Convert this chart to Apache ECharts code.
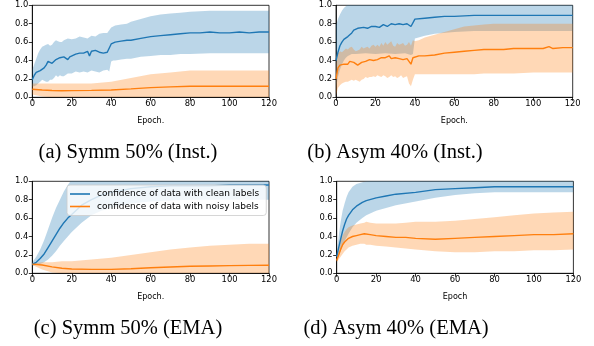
<!DOCTYPE html>
<html><head><meta charset="utf-8">
<script src="https://cdn.jsdelivr.net/npm/echarts@6/dist/echarts.min.js"></script>
<style>html,body{margin:0;padding:0;background:#fff}#c{width:594px;height:346px}</style>
</head><body><div id="c"></div>
<script>
// ---------- (a) Symm 50% (Inst.) ----------
const aCleanX = [0,1,2,3,4,5,6,7,8,9,10,11,12,13,14,15,16,17,18,19,20,22,24,25,26,27,28,29,30,31,32,33,34,35,36,37,38,39,40,41,42,45,48,50,55,60,65,70,75,80,85,90,95,100,105,110,115,120];
const aCleanY = [0.19,0.24,0.27,0.28,0.29,0.30,0.32,0.35,0.39,0.37,0.37,0.39,0.41,0.42,0.43,0.41,0.44,0.42,0.41,0.44,0.46,0.47,0.48,0.49,0.48,0.47,0.50,0.45,0.50,0.49,0.51,0.49,0.49,0.50,0.48,0.49,0.49,0.51,0.58,0.59,0.60,0.61,0.62,0.62,0.64,0.66,0.67,0.68,0.69,0.70,0.70,0.71,0.70,0.70,0.71,0.70,0.71,0.71];
const aCleanBX = [0,1,2,3,4,5,6,7,8,9,10,11,12,13,14,15,16,18,20,22,24,26,28,30,32,34,36,38,39,40,41,42,45,48,50,55,60,65,70,75,80,90,100,110,120];
const aCleanLo = [0.12,0.12,0.13,0.15,0.17,0.19,0.18,0.17,0.17,0.19,0.19,0.21,0.24,0.22,0.24,0.23,0.23,0.26,0.26,0.28,0.27,0.28,0.27,0.29,0.28,0.27,0.29,0.30,0.28,0.39,0.40,0.40,0.41,0.42,0.42,0.44,0.45,0.46,0.46,0.47,0.47,0.48,0.48,0.48,0.48];
const aCleanHi = [0.30,0.36,0.42,0.48,0.52,0.55,0.56,0.57,0.58,0.56,0.57,0.60,0.62,0.61,0.60,0.60,0.62,0.64,0.63,0.64,0.66,0.65,0.64,0.67,0.66,0.69,0.70,0.70,0.73,0.76,0.77,0.78,0.79,0.80,0.82,0.85,0.88,0.90,0.91,0.92,0.93,0.94,0.94,0.94,0.94];
const aNoisyX = [0,5,10,15,20,30,40,50,60,70,80,90,100,110,120];
const aNoisyY = [0.087,0.08,0.074,0.072,0.073,0.075,0.08,0.092,0.105,0.113,0.12,0.12,0.12,0.12,0.12];
const aNoisyLo = [0.03,0.01,0.0,0.0,0.0,0.0,0.0,0.0,0.0,0.0,0.0,0.0,0.0,0.0,0.0];
const aNoisyHi = [0.15,0.15,0.15,0.15,0.15,0.15,0.17,0.21,0.25,0.27,0.29,0.29,0.29,0.29,0.29];

// ---------- (b) Asym 40% (Inst.) ----------
const bCleanX = [0,1,2,3,4,5,6,7,8,9,10,11,12,14,16,18,20,22,24,25,26,28,30,32,34,36,37,38,39,40,41,45,50,55,60,70,80,90,100,110,120];
const bCleanY = [0.40,0.49,0.56,0.60,0.63,0.65,0.66,0.68,0.70,0.73,0.74,0.75,0.76,0.76,0.75,0.77,0.77,0.76,0.79,0.78,0.77,0.80,0.79,0.80,0.79,0.80,0.81,0.77,0.79,0.85,0.86,0.86,0.87,0.88,0.88,0.89,0.89,0.89,0.89,0.89,0.89];
const bCleanBX = [0,1,2,3,4,5,6,8,10,15,20,25,30,35,38,39,40,45,50,60,70,80,100,120];
const bCleanLo = [0.10,0.22,0.30,0.36,0.40,0.43,0.45,0.47,0.47,0.48,0.47,0.48,0.47,0.48,0.46,0.47,0.64,0.67,0.69,0.71,0.72,0.72,0.72,0.72];
const bCleanHi = [0.78,0.85,0.90,0.94,0.97,0.99,1.02,1.05,1.05,1.05,1.05,1.05,1.05,1.05,1.05,1.05,1.05,1.05,1.05,1.05,1.05,1.05,1.05,1.05];
const bNoisyX = [0,1,2,3,4,5,6,7,8,9,10,11,12,13,14,15,16,17,18,19,20,21,22,23,24,25,26,27,28,29,30,31,32,33,34,35,36,37,38,39,40,42,45,50,55,60,65,70,75,80,85,90,95,100,105,108,110,115,120];
const bNoisyY = [0.20,0.32,0.35,0.34,0.36,0.38,0.36,0.39,0.41,0.38,0.37,0.35,0.36,0.38,0.37,0.39,0.40,0.41,0.39,0.40,0.42,0.41,0.40,0.43,0.44,0.43,0.42,0.45,0.42,0.44,0.43,0.41,0.42,0.43,0.41,0.40,0.42,0.41,0.36,0.43,0.44,0.45,0.45,0.46,0.48,0.49,0.50,0.51,0.52,0.52,0.52,0.53,0.53,0.53,0.53,0.55,0.53,0.54,0.54];
const bNoisyBX = [0,1,2,3,4,5,6,7,8,9,10,11,12,13,14,15,16,17,18,19,20,21,22,23,24,25,26,27,28,29,30,31,32,33,34,35,36,37,38,39,40,42,45,50,55,60,65,70,75,80,90,100,110,120];
const bNoisyLo = [0.02,0.10,0.13,0.15,0.16,0.17,0.17,0.18,0.19,0.18,0.19,0.18,0.17,0.19,0.20,0.22,0.21,0.22,0.22,0.23,0.22,0.24,0.23,0.22,0.24,0.23,0.21,0.22,0.24,0.22,0.23,0.21,0.22,0.24,0.21,0.22,0.23,0.15,0.12,0.19,0.25,0.25,0.25,0.25,0.25,0.25,0.25,0.25,0.26,0.26,0.26,0.27,0.27,0.27];
const bNoisyHi = [0.37,0.48,0.50,0.49,0.51,0.53,0.52,0.54,0.55,0.52,0.50,0.51,0.52,0.55,0.53,0.54,0.55,0.53,0.56,0.57,0.55,0.57,0.55,0.59,0.56,0.60,0.57,0.59,0.61,0.56,0.55,0.59,0.57,0.58,0.59,0.56,0.57,0.60,0.56,0.62,0.61,0.62,0.65,0.68,0.71,0.74,0.77,0.78,0.79,0.80,0.80,0.80,0.80,0.80];

// ---------- (c) Symm 50% (EMA) ----------
const cCleanX = [0,2,4,6,8,10,12,14,16,18,20,25,30,35,40,50,60,70,80,90,100,110,120];
const cCleanY = [0.10,0.12,0.16,0.21,0.28,0.35,0.42,0.49,0.55,0.60,0.64,0.74,0.80,0.85,0.88,0.92,0.94,0.95,0.95,0.95,0.96,0.96,0.96];
const cCleanLo = [0.08,0.09,0.10,0.12,0.15,0.19,0.24,0.30,0.35,0.40,0.45,0.55,0.63,0.68,0.71,0.76,0.78,0.79,0.80,0.80,0.80,0.80,0.80];
const cCleanHi = [0.12,0.18,0.26,0.36,0.48,0.60,0.71,0.80,0.89,0.96,1.02,1.05,1.05,1.05,1.05,1.05,1.05,1.05,1.05,1.05,1.05,1.05,1.05];
const cNoisyX = [0,5,10,15,20,30,40,50,60,70,80,90,100,110,120];
const cNoisyY = [0.10,0.09,0.07,0.055,0.047,0.043,0.043,0.05,0.06,0.068,0.076,0.08,0.083,0.086,0.088];
const cNoisyLo = [0.09,0.04,0.01,0.0,0.0,0.0,0.0,0.0,0.0,0.0,0.0,0.0,0.0,0.0,0.0];
const cNoisyHi = [0.11,0.12,0.12,0.13,0.13,0.15,0.17,0.20,0.23,0.26,0.28,0.30,0.31,0.32,0.32];

// ---------- (d) Asym 40% (EMA) ----------
const dCleanX = [0,1,2,3,4,5,6,8,10,13,15,20,25,30,40,50,60,70,80,90,100,110,120];
const dCleanY = [0.18,0.28,0.37,0.46,0.53,0.59,0.63,0.69,0.73,0.77,0.79,0.82,0.84,0.86,0.88,0.91,0.92,0.93,0.94,0.94,0.94,0.94,0.94];
const dCleanLo = [0.15,0.19,0.24,0.30,0.35,0.39,0.43,0.50,0.55,0.60,0.63,0.68,0.71,0.74,0.78,0.82,0.85,0.87,0.88,0.88,0.88,0.88,0.88];
const dCleanHi = [0.22,0.40,0.56,0.68,0.76,0.83,0.88,0.94,0.97,0.99,1.0,1.01,1.02,1.02,1.02,1.02,1.02,1.02,1.02,1.02,1.02,1.02,1.02];
const dNoisyX = [0,1,2,3,4,5,6,8,10,12,14,15,17,20,25,30,35,40,50,60,70,80,90,100,110,120];
const dNoisyY = [0.14,0.20,0.26,0.31,0.34,0.36,0.38,0.40,0.41,0.42,0.43,0.43,0.42,0.41,0.40,0.39,0.39,0.38,0.37,0.38,0.39,0.40,0.41,0.42,0.42,0.43];
const dNoisyLo = [0.12,0.15,0.18,0.21,0.24,0.26,0.28,0.30,0.31,0.32,0.32,0.31,0.31,0.30,0.29,0.28,0.27,0.26,0.24,0.23,0.23,0.24,0.24,0.25,0.25,0.26];
const dNoisyHi = [0.17,0.27,0.35,0.41,0.45,0.48,0.50,0.52,0.53,0.54,0.55,0.56,0.55,0.54,0.54,0.54,0.55,0.56,0.56,0.57,0.59,0.61,0.63,0.65,0.66,0.67];

const xTicks = [0,20,40,60,80,100,120];
const yTicks = [0,0.2,0.4,0.6,0.8,1.0];
const legendNames = ['confidence of data with clean labels','confidence of data with noisy labels'];
const captions = ['(a) Symm 50% (Inst.)','(b) Asym 40% (Inst.)','(c) Symm 50% (EMA)','(d) Asym 40% (EMA)'];
const xNames = ['Epoch.','Epoch.','Epoch.','Epoch'];

const BLUE = '#1f77b4', ORANGE = '#ff7f0e';
const grids = [
  {left:32.3, top:5.3, width:236.7, height:92},
  {left:336, top:5.3, width:236.7, height:92},
  {left:32.3, top:181.3, width:236.7, height:92},
  {left:336.7, top:181.3, width:236.7, height:92}
];
const capPos = [[128,153],[395,153],[128,329],[396,329]];

const tickFont = {fontFamily:'DejaVu Sans', fontSize:8.4, color:'#000'};
const xAxes = grids.map((g,i)=>({
  type:'value', gridIndex:i, min:0, max:120, interval:20,
  name:xNames[i], nameLocation:'middle', nameGap:19.5,
  nameTextStyle:{fontFamily:'DejaVu Sans', fontSize:8, color:'#000'},
  axisLine:{show:true, onZero:false, lineStyle:{color:'#000', width:0.8}},
  axisTick:{show:true, length:3.5, lineStyle:{color:'#000', width:0.8}},
  axisLabel:Object.assign({margin:3, formatter:v=>String(v)}, tickFont),
  splitLine:{show:false}
}));
const yAxes = grids.map((g,i)=>({
  type:'value', gridIndex:i, min:0, max:1, interval:0.2,
  axisLine:{show:true, onZero:false, lineStyle:{color:'#000', width:0.8}},
  axisTick:{show:true, length:3.5, lineStyle:{color:'#000', width:0.8}},
  axisLabel:Object.assign({margin:4, formatter:v=>v.toFixed(1)}, tickFont),
  splitLine:{show:false}
}));

function pairs(xs, ys){ return xs.map((x,i)=>[x, ys[i]]); }
function band(gi, xs, lo, hi, color){
  return {
    type:'custom', xAxisIndex:gi, yAxisIndex:gi, clip:true, silent:true, z:1,
    data:[[xs[0], lo[0]]],
    renderItem:function(params, api){
      const top = xs.map((x,i)=>api.coord([x, hi[i]]));
      const bot = xs.map((x,i)=>api.coord([x, lo[i]])).reverse();
      return {type:'polygon', shape:{points:top.concat(bot)}, style:{fill:color, opacity:0.3}};
    }
  };
}
function mean(gi, xs, ys, color, name){
  return {type:'line', name:name, xAxisIndex:gi, yAxisIndex:gi, data:pairs(xs, ys), symbol:'none',
    lineStyle:{color:color, width:1.4}, itemStyle:{color:color}, z:3, animation:false};
}

const series = [
  band(0, aCleanBX, aCleanLo, aCleanHi, BLUE),
  band(0, aNoisyX, aNoisyLo, aNoisyHi, ORANGE),
  mean(0, aCleanX, aCleanY, BLUE, 'a-clean'), mean(0, aNoisyX, aNoisyY, ORANGE, 'a-noisy'),
  band(1, bCleanBX, bCleanLo, bCleanHi, BLUE),
  band(1, bNoisyBX, bNoisyLo, bNoisyHi, ORANGE),
  mean(1, bCleanX, bCleanY, BLUE, 'b-clean'), mean(1, bNoisyX, bNoisyY, ORANGE, 'b-noisy'),
  band(2, cCleanX, cCleanLo, cCleanHi, BLUE),
  band(2, cNoisyX, cNoisyLo, cNoisyHi, ORANGE),
  mean(2, cCleanX, cCleanY, BLUE, legendNames[0]), mean(2, cNoisyX, cNoisyY, ORANGE, legendNames[1]),
  band(3, dCleanX, dCleanLo, dCleanHi, BLUE),
  band(3, dNoisyX, dNoisyLo, dNoisyHi, ORANGE),
  mean(3, dCleanX, dCleanY, BLUE, 'd-clean'), mean(3, dNoisyX, dNoisyY, ORANGE, 'd-noisy')
];

const chart = echarts.init(document.getElementById('c'), null, {renderer:'canvas'});
chart.setOption({
  animation:false,
  backgroundColor:'#fff',
  grid: grids.map(g=>Object.assign({show:true, borderColor:'#000', borderWidth:0.8, backgroundColor:'transparent'}, g)),
  xAxis:xAxes, yAxis:yAxes,
  legend:{
    data:legendNames, orient:'vertical', left:67, top:185,
    padding:[4.5,7,4.5,3], itemGap:3.5, itemWidth:20, itemHeight:1.6, icon:'rect',
    backgroundColor:'rgba(255,255,255,0.8)', borderColor:'#cccccc', borderWidth:0.8, borderRadius:3,
    textStyle:{fontFamily:'DejaVu Sans', fontSize:9, color:'#000', padding:[0,0,0,2]}
  },
  series:series,
  graphic: captions.map((t,i)=>({
    type:'text', x:capPos[i][0], y:capPos[i][1],
    style:{text:t, fill:'#000', font:'20.5px "Liberation Serif"', textAlign:'center', textVerticalAlign:'middle'}
  }))
});
</script>
</body></html>
